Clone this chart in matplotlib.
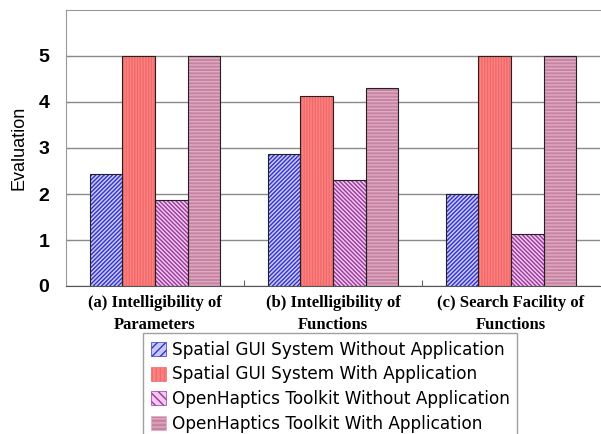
import matplotlib
matplotlib.use("Agg")
import matplotlib.pyplot as plt
import numpy as np
from matplotlib.patches import Patch

categories = ["(a) Intelligibility of\nParameters",
              "(b) Intelligibility of\nFunctions",
              "(c) Search Facility of\nFunctions"]
series_names = ["Spatial GUI System Without Application",
                "Spatial GUI System With Application",
                "OpenHaptics Toolkit Without Application",
                "OpenHaptics Toolkit With Application"]
spatial_without = [2.43, 2.88, 2.01]
spatial_with = [5.0, 4.14, 5.0]
openhaptics_without = [1.87, 2.30, 1.14]
openhaptics_with = [5.0, 4.30, 5.0]
yticks = [0, 1, 2, 3, 4, 5]

series = [spatial_without, spatial_with, openhaptics_without, openhaptics_with]
faces = ["#c8c8ff", "#ff8080", "#f0c8f0", "#c6849f"]
hatchcols = ["#3434c4", "#f06a6a", "#9a3a9a", "#e0aac6"]
hatches = ["////////", "||||||", "\\\\\\\\\\\\\\\\", "-----"]

plt.rcParams["hatch.linewidth"] = 1.0
fig = plt.figure(figsize=(6.01, 4.34), dpi=100)
ax = fig.add_axes([66/601, 1-286/434, 534/601, 276/434])

x = np.arange(len(categories))
w = 0.183
for i, vals in enumerate(series):
    pos = x + (i - 1.5) * w
    ax.bar(pos, vals, w, color=faces[i], edgecolor=hatchcols[i], hatch=hatches[i],
           linewidth=0, zorder=3)
    ax.bar(pos, vals, w, fill=False, edgecolor="#222222", linewidth=0.8, zorder=4)

ax.set_xlim(-0.5, 2.5)
ax.set_ylim(0, 6)
ax.set_yticks(yticks)
ax.set_yticklabels([str(t) for t in yticks], fontsize=14, fontweight="bold",
                   family="Liberation Sans")
ax.tick_params(axis="y", direction="in", length=3, pad=12, color="#888888")
ax.set_xticks([0.5, 1.5])
ax.set_xticklabels([])
ax.tick_params(axis="x", direction="in", length=4, color="#666666")
for xi, lab in zip(x, categories):
    ax.text(xi, -0.2, lab, ha="center", va="top", fontsize=12, fontweight="bold",
            family="Liberation Serif", linespacing=1.45, transform=ax.transData)
ax.grid(axis="y", color="#8a8a8a", linewidth=1.0, zorder=0)
ax.set_ylabel("Evaluation", fontsize=13, family="Liberation Sans", labelpad=8)
for s in ["left", "top"]:
    ax.spines[s].set_color("#999999")
ax.spines["bottom"].set_color("#555555")
ax.spines["right"].set_visible(False)

handles = [Patch(facecolor=faces[i], edgecolor=hatchcols[i], hatch=hatches[i][:4],
                 linewidth=0.5) for i in range(4)]
leg = fig.legend(handles, series_names, loc="upper left",
                 bbox_to_anchor=(143/601, 1-333/434),
                 prop={"family": "DejaVu Sans", "size": 12.2},
                 frameon=True, fancybox=False, edgecolor="#888888",
                 handlelength=0.9, handleheight=0.9, handletextpad=0.35,
                 labelspacing=0.4, borderpad=0.45, borderaxespad=0)
leg.get_frame().set_linewidth(1.0)

fig.savefig("out.png", dpi=100)
